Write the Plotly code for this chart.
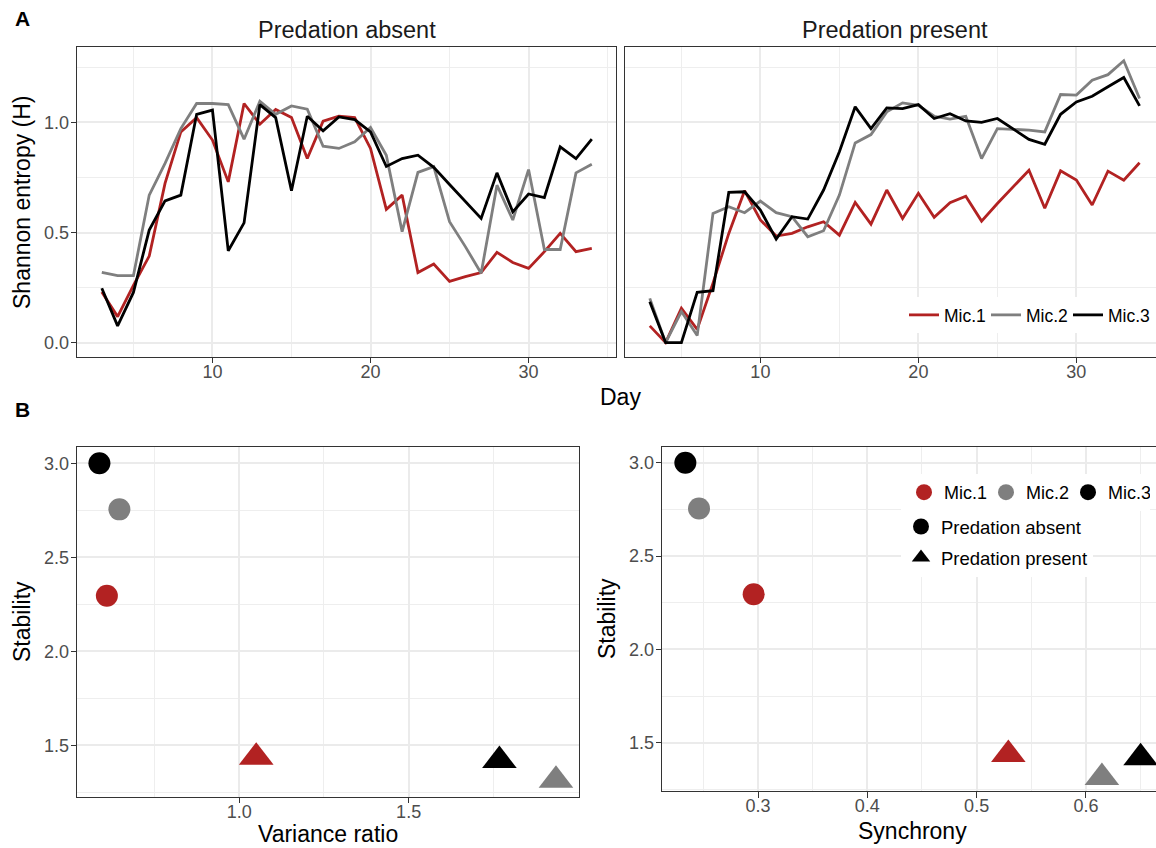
import plotly.graph_objects as go

W, H = 1156, 848
FONT = "Liberation Sans, Arial, Helvetica, sans-serif"


def px(x):
    return x / W


def py(y):
    return 1 - y / H


# ---------------- data ----------------
days = list(range(3, 35))
mics = ["Mic.1", "Mic.2", "Mic.3"]
colors = ["#B22222", "#7F7F7F", "#000000"]

# Shannon entropy, predation absent
absent_mic1 = [0.23, 0.118, 0.26, 0.393, 0.723, 0.957, 1.022, 0.92, 0.73, 1.086, 0.992, 1.059,
               1.022, 0.836, 1.006, 1.028, 1.022, 0.882, 0.605, 0.67, 0.318, 0.357, 0.278, 0.30,
               0.318, 0.41, 0.364, 0.337, 0.413, 0.496, 0.413, 0.428]
absent_mic2 = [0.319, 0.304, 0.304, 0.67, 0.814, 0.972, 1.086, 1.086, 1.081, 0.924, 1.096, 1.037,
               1.075, 1.06, 0.892, 0.882, 0.912, 0.977, 0.851, 0.504, 0.773, 0.799, 0.549, 0.436,
               0.315, 0.715, 0.557, 0.786, 0.423, 0.423, 0.771, 0.81]
absent_mic3 = [0.247, 0.076, 0.228, 0.511, 0.644, 0.670, 1.037, 1.056, 0.417, 0.544, 1.081, 1.022,
               0.690, 1.028, 0.962, 1.025, 1.013, 0.957, 0.80, 0.836, 0.851, 0.796, 0.718, 0.641,
               0.564, 0.771, 0.594, 0.675, 0.659, 0.889, 0.836, 0.924]

# Shannon entropy, predation present
present_mic1 = [0.076, 0.0, 0.156, 0.06, 0.27, 0.496, 0.69, 0.557, 0.484, 0.496, 0.526, 0.549,
                0.488, 0.637, 0.538, 0.693, 0.564, 0.678, 0.569, 0.635, 0.665, 0.552, 0.632, 0.708,
                0.783, 0.61, 0.78, 0.738, 0.625, 0.779, 0.738, 0.817]
present_mic2 = [0.201, 0.0, 0.141, 0.032, 0.587, 0.617, 0.59, 0.643, 0.59, 0.572, 0.481, 0.508,
                0.67, 0.907, 0.945, 1.048, 1.089, 1.078, 1.028, 1.015, 1.028, 0.836, 0.972, 0.968,
                0.965, 0.957, 1.127, 1.124, 1.192, 1.217, 1.28, 1.109]
present_mic3 = [0.186, 0.0, 0.0, 0.228, 0.236, 0.682, 0.685, 0.602, 0.47, 0.572, 0.561, 0.693,
                0.867, 1.071, 0.972, 1.066, 1.063, 1.081, 1.018, 1.04, 1.007, 1.0, 1.018, 0.972,
                0.923, 0.901, 1.037, 1.093, 1.119, 1.162, 1.204, 1.075]

# Panel B
stability_absent = [2.295, 2.755, 3.0]
stability_present = [1.437, 1.314, 1.419]
variance_ratio_absent = [0.609, 0.646, 0.587]
variance_ratio_present = [1.050, 1.935, 1.768]
synchrony_absent = [0.296, 0.246, 0.2335]
synchrony_present = [0.529, 0.6146, 0.650]

absent = [absent_mic1, absent_mic2, absent_mic3]
present = [present_mic1, present_mic2, present_mic3]

fig = go.Figure()

for i, m in enumerate(mics):
    fig.add_trace(go.Scatter(x=days, y=absent[i], mode="lines", name=m,
                             line=dict(color=colors[i], width=2.8),
                             xaxis="x", yaxis="y", legend="legend", showlegend=True))
for i, m in enumerate(mics):
    fig.add_trace(go.Scatter(x=days, y=present[i], mode="lines", name=m,
                             line=dict(color=colors[i], width=2.8),
                             xaxis="x2", yaxis="y2", showlegend=False))

symbols = ["circle", "triangle-up"]
sizes = [22, 30]
for i, m in enumerate(mics):
    fig.add_trace(go.Scatter(x=[variance_ratio_absent[i], variance_ratio_present[i]],
                             y=[stability_absent[i], stability_present[i]],
                             mode="markers", name=m,
                             marker=dict(color=colors[i], symbol=symbols, size=sizes,
                                         opacity=1, line=dict(width=0)),
                             xaxis="x3", yaxis="y3", showlegend=False))
for i, m in enumerate(mics):
    fig.add_trace(go.Scatter(x=[synchrony_absent[i], synchrony_present[i]],
                             y=[stability_absent[i], stability_present[i]],
                             mode="markers", name=m,
                             marker=dict(color=colors[i], symbol=symbols, size=sizes,
                                         opacity=1, line=dict(width=0)),
                             xaxis="x4", yaxis="y4", showlegend=False))

# legend-only entries for panel B
for i, m in enumerate(mics):
    fig.add_trace(go.Scatter(x=[None], y=[None], mode="markers", name=m,
                             marker=dict(color=colors[i], symbol="circle", size=16, opacity=1),
                             xaxis="x4", yaxis="y4", legend="legend2", showlegend=True))
for lab, sym in [("Predation absent", "circle"), ("Predation present", "triangle-up")]:
    fig.add_trace(go.Scatter(x=[None], y=[None], mode="markers", name=lab, legendgroup=lab,
                             marker=dict(color="#000000", symbol=sym, size=16, opacity=1),
                             xaxis="x4", yaxis="y4", legend="legend3", showlegend=True))

tickfont = dict(family=FONT, size=18, color="#4D4D4D")


def ax(domain, rng, tickvals, minorvals, anchor, showlabels=True, mirror=True, fmt=".1f",
       ticks="outside", standoff=-2):
    return dict(domain=domain, range=rng, anchor=anchor, tickmode="array", tickvals=tickvals,
                tickformat=fmt, showticklabels=showlabels, tickfont=tickfont,
                ticklabelstandoff=standoff,
                ticks=ticks, ticklen=5.5, tickwidth=1.1, tickcolor="#333333",
                showgrid=True, gridcolor="#EBEBEB", gridwidth=2.0,
                minor=dict(tickmode="array", tickvals=minorvals, showgrid=True,
                           gridcolor="#EEEEEE", gridwidth=1.0, ticks=""),
                zeroline=False, showline=True, linecolor="#333333", linewidth=1.1,
                mirror=mirror, fixedrange=True)


top_y = [py(356.7), py(46.7)]
bot_y_l = [py(796.7), py(446.7)]
bot_y_r = [py(791.0), py(446.7)]
XS = -7

fig.update_layout(
    xaxis=ax([px(77.3), px(616.3)], [1.45, 35.55], [10, 20, 30], [5, 15, 25, 35], "y", fmt="d",
             standoff=XS),
    yaxis=ax(top_y, [-0.064, 1.344], [0, 0.5, 1.0], [0.25, 0.75, 1.25], "x"),
    xaxis2=ax([px(625.3), 1.0], [1.45, 35.04], [10, 20, 30], [5, 15, 25, 35], "y2", fmt="d",
              standoff=XS),
    yaxis2=ax(top_y, [-0.064, 1.344], [0, 0.5, 1.0], [0.25, 0.75, 1.25], "x2",
              showlabels=False, mirror=False, ticks=""),
    xaxis3=ax([px(77.3), px(579.0)], [0.5217, 2.003], [1.0, 1.5], [0.75, 1.25, 1.75], "y3",
              standoff=XS),
    yaxis3=ax(bot_y_l, [1.2266, 3.0883], [1.5, 2.0, 2.5, 3.0], [1.25, 1.75, 2.25, 2.75], "x3"),
    xaxis4=ax([px(662.3), 1.0], [0.2124, 0.6641], [0.3, 0.4, 0.5, 0.6],
              [0.25, 0.35, 0.45, 0.55, 0.65], "y4", standoff=XS),
    yaxis4=ax(bot_y_r, [1.2413, 3.0857], [1.5, 2.0, 2.5, 3.0], [1.25, 1.75, 2.25, 2.75], "x4",
              mirror=False),
)

fig.update_layout(
    width=W, height=H, autosize=False,
    margin=dict(l=0, r=0, t=0, b=0, pad=0),
    paper_bgcolor="white", plot_bgcolor="white",
    font=dict(family=FONT, color="#000000"),
    legend=dict(orientation="h", x=px(1150), xanchor="right", y=py(333), yanchor="bottom",
                bgcolor="white", font=dict(family=FONT, size=17.5, color="#000000"),
                itemwidth=30, entrywidth=37, entrywidthmode="pixels",
                tracegroupgap=0, itemclick=False, itemdoubleclick=False),
    legend2=dict(orientation="h", x=px(1150), xanchor="right", y=py(474), yanchor="top",
                 bgcolor="white", font=dict(family=FONT, size=18, color="#000000"),
                 itemwidth=30, entrywidth=37, entrywidthmode="pixels",
                 itemclick=False, itemdoubleclick=False),
    legend3=dict(orientation="v", x=px(901), xanchor="left", y=py(508), yanchor="top",
                 bgcolor="white", font=dict(family=FONT, size=18.5, color="#000000"),
                 itemwidth=30, entrywidth=200, entrywidthmode="pixels",
                 tracegroupgap=4, itemclick=False, itemdoubleclick=False),
)

ann = []


def text(x, y, s, size, color="#000000", angle=0, bold=False):
    ann.append(dict(x=px(x), y=py(y), xref="paper", yref="paper", text=f"<b>{s}</b>" if bold else s,
                    showarrow=False, xanchor="center", yanchor="middle", textangle=angle,
                    font=dict(family=FONT, size=size, color=color)))


text(22, 18, "A", 21, bold=True)
text(22, 410, "B", 21, bold=True)
text(346.8, 30, "Predation absent", 23.5, color="#1A1A1A")
text(894.6, 30, "Predation present", 23.5, color="#1A1A1A")
text(22, 202, "Shannon entropy (H)", 23, angle=-90)
text(620, 397, "Day", 23)
text(22, 622, "Stability", 23, angle=-90)
text(328, 834, "Variance ratio", 23)
text(607, 619, "Stability", 23, angle=-90)
text(912, 831, "Synchrony", 23)

fig.update_layout(annotations=ann)

fig.write_html("out.html")
